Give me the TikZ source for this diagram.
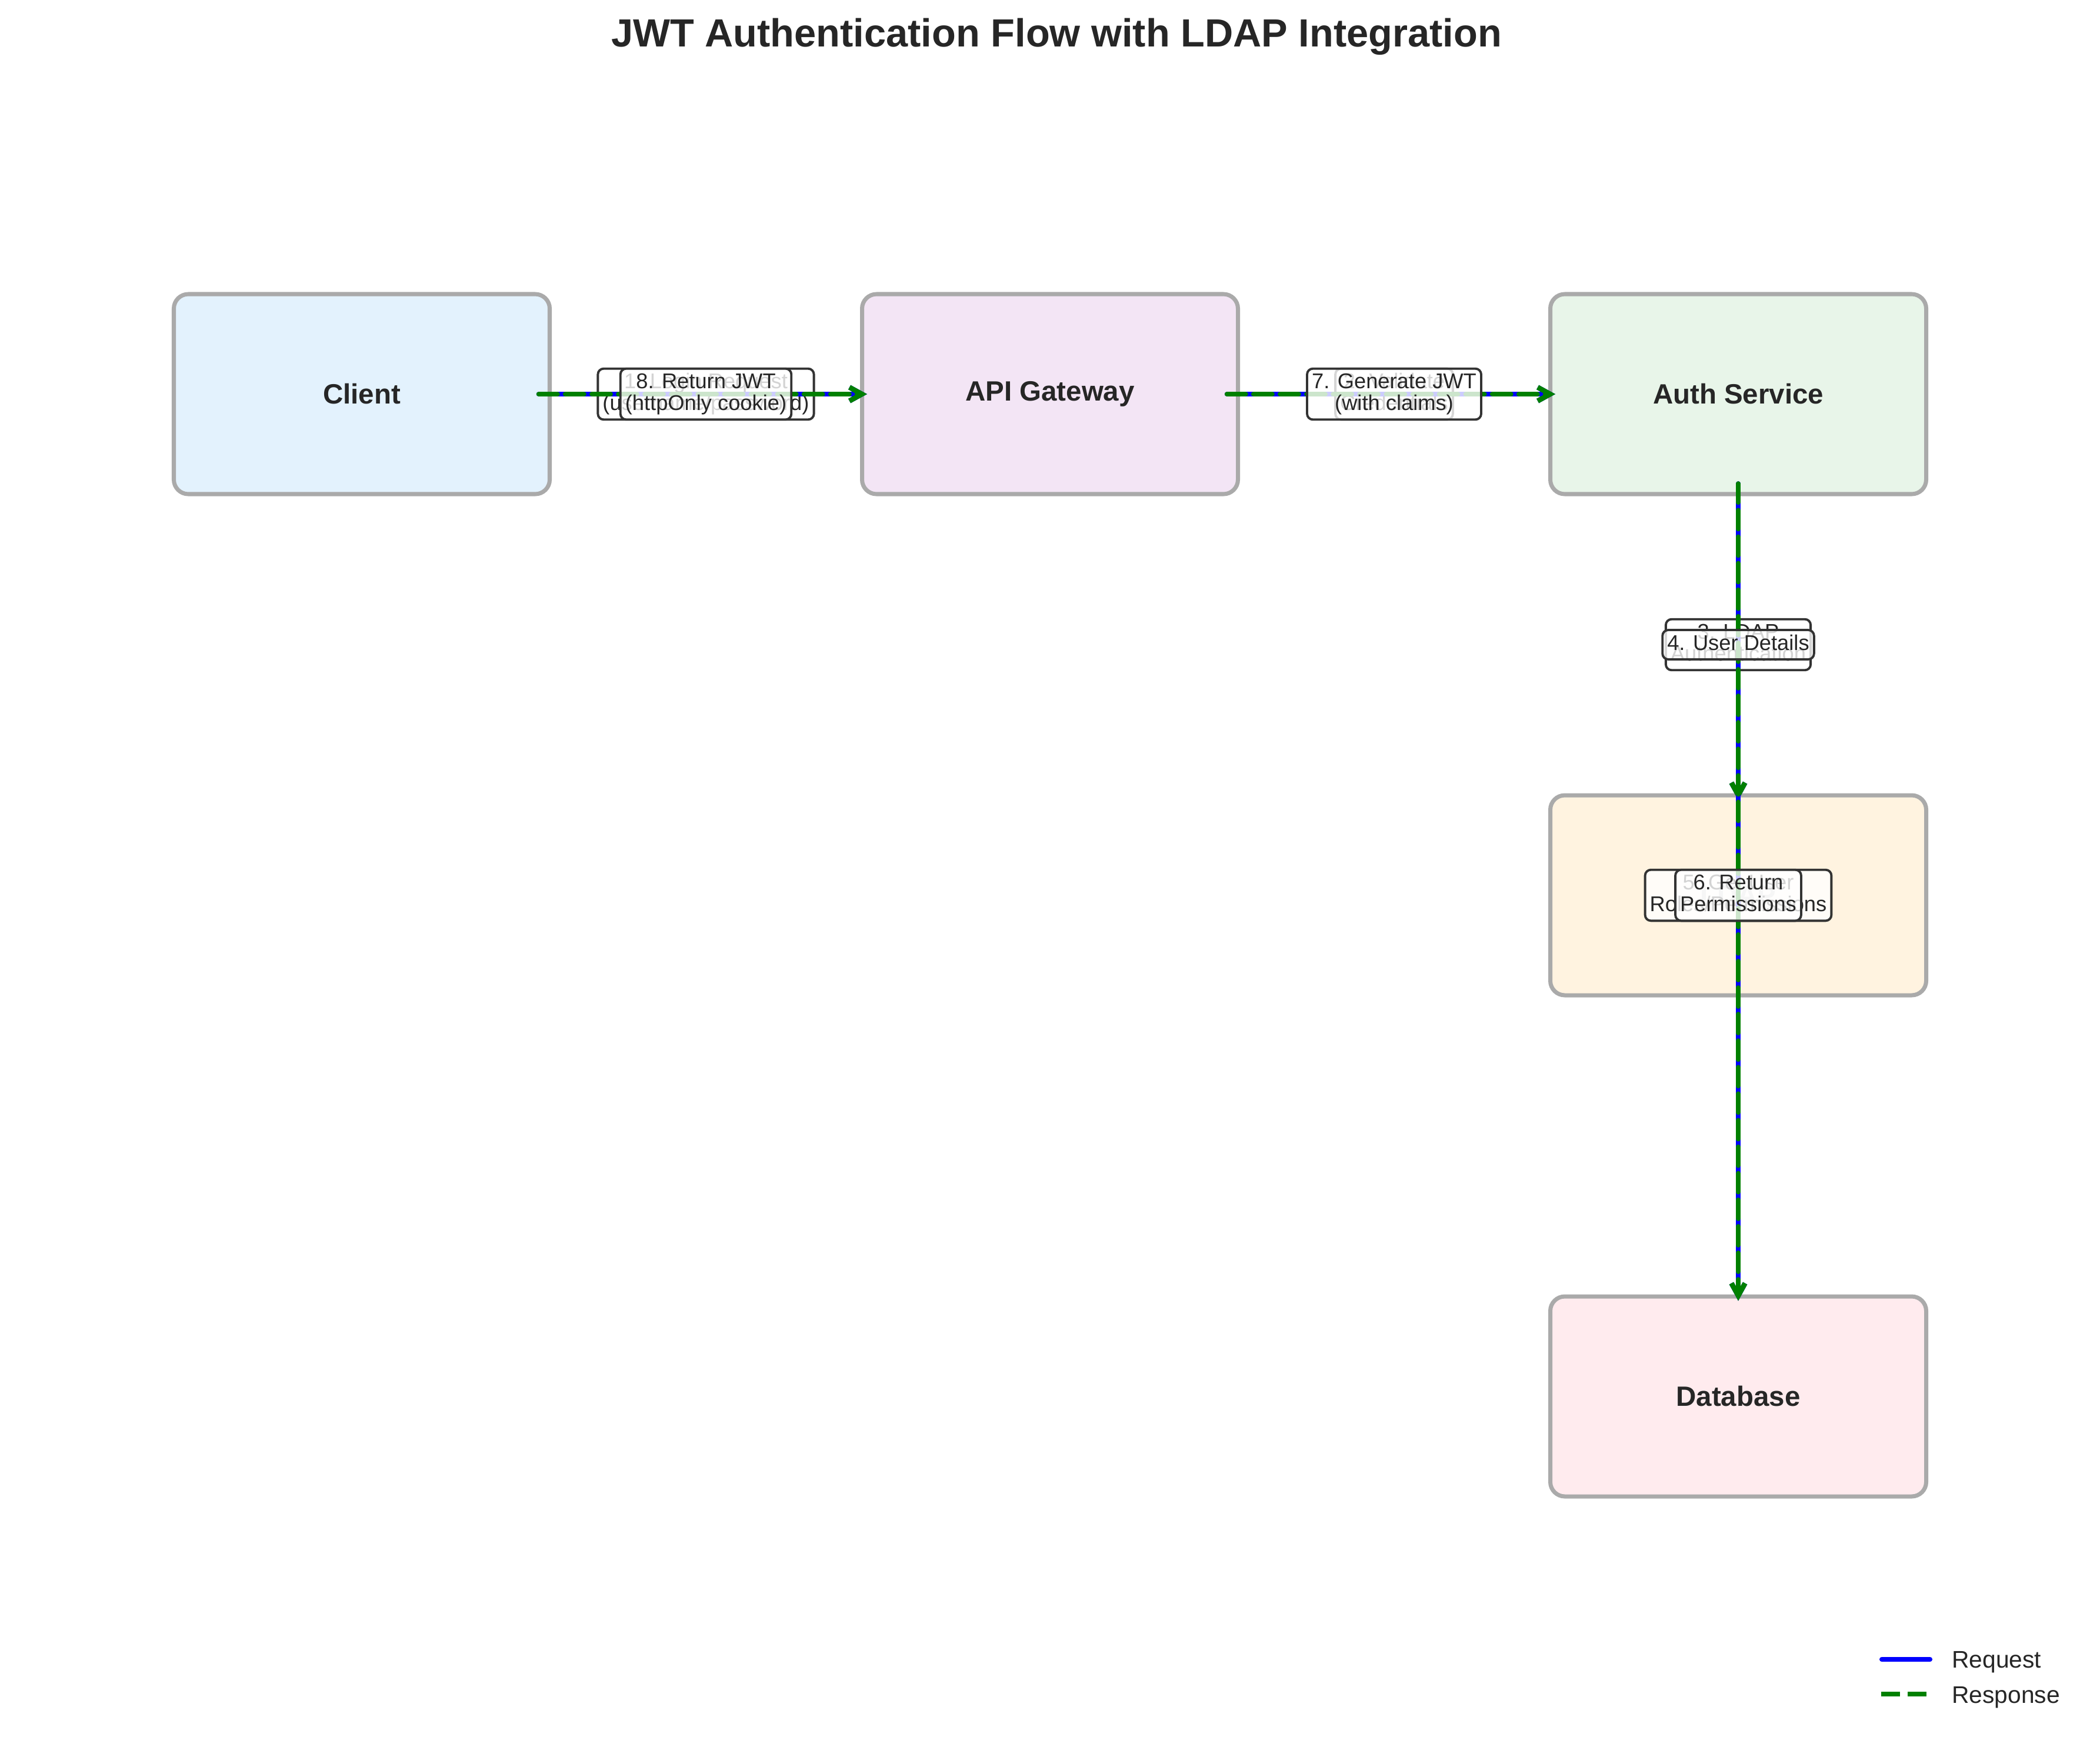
\documentclass[tikz,border=0pt]{standalone}
\usepackage{fontspec}
\setmainfont{Liberation Sans}
\usetikzlibrary{arrows.meta,calc}
\definecolor{txt}{HTML}{262626}
\definecolor{edgegray}{HTML}{AAAAAA}
\definecolor{cClient}{HTML}{E3F2FD}
\definecolor{cApi}{HTML}{F3E5F5}
\definecolor{cAuth}{HTML}{E8F5E9}
\definecolor{cLdap}{HTML}{FFF3E0}
\definecolor{cDb}{HTML}{FFEBEE}
\definecolor{lblborder}{HTML}{333333}
\definecolor{reqblue}{HTML}{0000FF}
\definecolor{respgreen}{HTML}{008000}
\newcommand{\lst}{\rule[-2.3pt]{0pt}{9.9pt}}
\tikzset{
  svcbox/.style={draw=edgegray, line width=2pt, rounded corners=7pt,
    minimum width=6.39cm, minimum height=3.40cm, inner sep=0pt,
    text=txt, font=\fontsize{13.5}{16}\selectfont\bfseries},
  flowlabel/.style={draw=lblborder, line width=1.1pt, fill=white, fill opacity=0.8,
    text opacity=1, rounded corners=2.8pt, inner xsep=2.3pt, inner ysep=2.15pt,
    align=center, text=txt, font=\fontsize{10.33}{10.44}\selectfont},
  reqline/.style={draw=reqblue, line width=2.42pt, line cap=round,
    -{Straight Barb[length=6pt,width=6.6pt]}},
  respline/.style={draw=respgreen, line width=2.42pt, line cap=round,
    dash pattern=on 8.96pt off 3.87pt, -{Straight Barb[length=6pt,width=6.6pt]}},
  legtext/.style={anchor=base west, text=txt, font=\fontsize{11.6}{14}\selectfont}
}
\begin{document}
\begin{tikzpicture}
\useasboundingbox (0,0) rectangle (35.7,-29.7);
\node[anchor=base, text=txt, font=\fontsize{19.0}{23}\selectfont\bfseries] (title) at (17.96,-0.79) {JWT Authentication Flow with LDAP Integration};

\node[svcbox, fill=cClient] (client) at (6.15,-6.70) {Client};
\node[svcbox, fill=cApi] (api) at (17.85,-6.70) {API Gateway};
\node[svcbox, fill=cAuth] (auth) at (29.55,-6.70) {Auth Service};
\node[svcbox, fill=cLdap] (ldap) at (29.55,-15.22) {LDAP};
\node[svcbox, fill=cDb] (db) at (29.55,-23.74) {Database};

% request labels
\node[flowlabel] (l1) at ($(client.east)!0.5!(api.west)$) {\lst 1. Login Request\\\lst(username/password)};
\node[flowlabel] (l2) at ($(api.east)!0.5!(auth.west)$) {\lst 2. Validate\\\lst Credentials};
\node[flowlabel] (l3) at ($(auth.south)!0.5!(ldap.north)$) {\lst 3. LDAP\\\lst Authentication};
\node[flowlabel] (l5) at ($(auth.south)!0.5!(db.north)$) {\lst 5. Get User\\\lst Roles/Permissions};

% connectors
\draw[reqline, shorten <=-0.22cm, shorten >=-0.12cm] (client.east) -- (api.west);
\draw[respline, shorten <=-0.22cm, shorten >=-0.12cm] (client.east) -- (api.west);
\draw[reqline, shorten <=-0.22cm, shorten >=-0.12cm] (api.east) -- (auth.west);
\draw[respline, shorten <=-0.22cm, shorten >=-0.12cm] (api.east) -- (auth.west);
\draw[reqline, shorten <=-0.21cm, shorten >=-0.12cm] (auth.south) -- (ldap.north);
\draw[respline, shorten <=-0.21cm, shorten >=-0.12cm] (auth.south) -- (ldap.north);
\draw[reqline, shorten <=-0.21cm, shorten >=-0.11cm] (auth.south) -- (db.north);
\draw[respline, shorten <=-0.21cm, shorten >=-0.11cm] (auth.south) -- (db.north);

% response labels
\node[flowlabel] (l8) at ($(client.east)!0.5!(api.west)$) {\lst 8. Return JWT\\\lst(httpOnly cookie)};
\node[flowlabel] (l7) at ($(api.east)!0.5!(auth.west)$) {\lst 7. Generate JWT\\\lst(with claims)};
\node[flowlabel] (l4) at ($(auth.south)!0.5!(ldap.north)$) {\lst 4. User Details};
\node[flowlabel] (l6) at ($(auth.south)!0.5!(db.north)$) {\lst 6. Return\\\lst Permissions};

% legend
\coordinate (lgA1) at (31.99,-28.21);
\coordinate (lgA2) at (32.81,-28.21);
\coordinate (lgB1) at (31.98,-28.80);
\coordinate (lgB2) at (32.85,-28.80);
\draw[draw=reqblue, line width=2.3pt, line cap=round] (lgA1) -- (lgA2);
\draw[draw=respgreen, line width=2.3pt, dash pattern=on 9.1pt off 3.7pt] (lgB1) -- (lgB2);
\node[legtext] (lgreq) at (33.06,-28.35) {Request};
\node[legtext] (lgresp) at (33.06,-28.95) {Response};
\end{tikzpicture}
\end{document}
